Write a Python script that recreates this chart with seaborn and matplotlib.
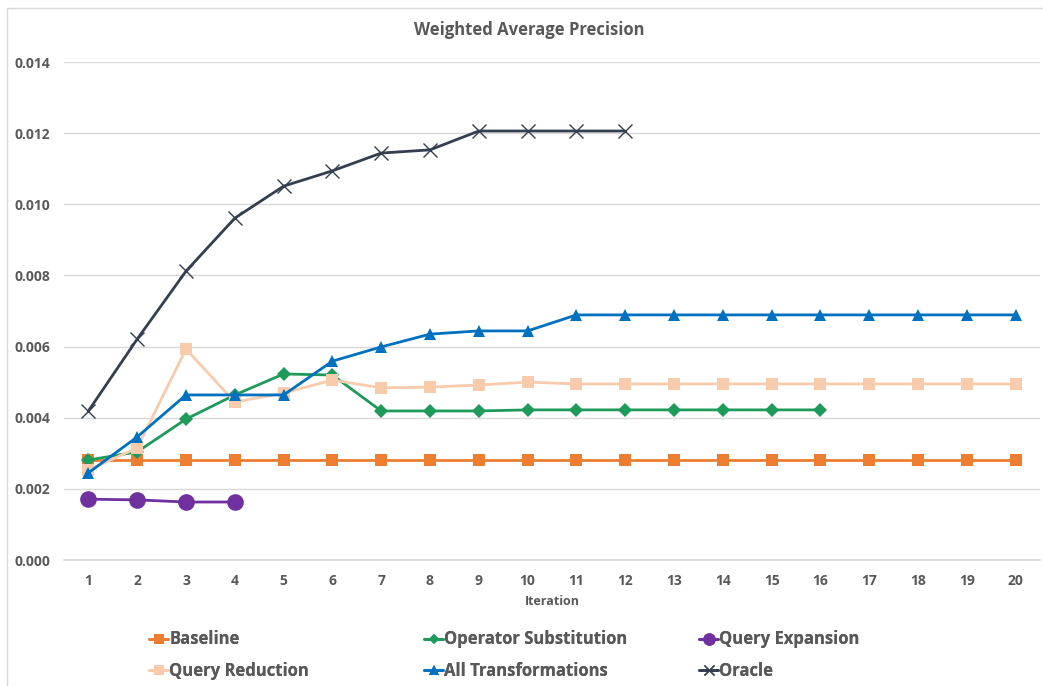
import matplotlib
matplotlib.use("Agg")
import matplotlib.pyplot as plt
import seaborn as sns
import pandas as pd
from matplotlib.patches import Rectangle

# Weighted average precision per iteration for each query strategy
iterations = list(range(1, 21))
baseline = [0.0028] * 20
operator_substitution = [0.00281, 0.00304, 0.00396, 0.00464, 0.00523, 0.00520,
                         0.00419, 0.00419, 0.00419, 0.00422, 0.00422, 0.00422,
                         0.00422, 0.00422, 0.00422, 0.00422]
query_expansion = [0.00171, 0.00169, 0.00163, 0.00163]
query_reduction = [0.00253, 0.00315, 0.00593, 0.00444, 0.00469, 0.00506,
                   0.00484, 0.00486, 0.00492, 0.00500, 0.00495, 0.00495,
                   0.00495, 0.00495, 0.00495, 0.00495, 0.00495, 0.00495,
                   0.00495, 0.00495]
all_transformations = [0.00245, 0.00346, 0.00464, 0.00464, 0.00464, 0.00559,
                       0.00599, 0.00635, 0.00644, 0.00644, 0.00689, 0.00689,
                       0.00689, 0.00689, 0.00689, 0.00689, 0.00689, 0.00689,
                       0.00689, 0.00689]
oracle = [0.00419, 0.00621, 0.00812, 0.00961, 0.01051, 0.01094, 0.01144,
          0.01153, 0.01206, 0.01206, 0.01206, 0.01206]

series_names = ["Baseline", "Operator Substitution", "Query Expansion",
                "Query Reduction", "All Transformations", "Oracle"]
series_values = [baseline, operator_substitution, query_expansion,
                 query_reduction, all_transformations, oracle]
y_ticks = [0.000, 0.002, 0.004, 0.006, 0.008, 0.010, 0.012, 0.014]

rows = []
for name, vals in zip(series_names, series_values):
    for it, v in zip(iterations, vals):
        rows.append({"Iteration": it, "Precision": v, "Series": name})
df = pd.DataFrame(rows)

colors = {"Baseline": "#ED7D31", "Operator Substitution": "#1E9A5A",
          "Query Expansion": "#7030A0", "Query Reduction": "#F8CBAD",
          "All Transformations": "#0070C0", "Oracle": "#333F50"}
markers = {"Baseline": "s", "Operator Substitution": "D",
           "Query Expansion": "o", "Query Reduction": "s",
           "All Transformations": "^", "Oracle": "x"}
msizes = {"Baseline": 9, "Operator Substitution": 7, "Query Expansion": 12,
          "Query Reduction": 9, "All Transformations": 9, "Oracle": 10}

sns.set_theme(style="white")
plt.rcParams["font.family"] = ["Open Sans", "DejaVu Sans"]

fig = plt.figure(figsize=(10.43, 6.86), dpi=100)
ax = fig.add_axes([64 / 1043, 1 - 560 / 686, (1040 - 64) / 1043, (560 - 62) / 686])

# chart frame
fig.patches.append(Rectangle((7 / 1043, -0.1), 1.2, 1 - 8 / 686 + 0.1,
                             transform=fig.transFigure, fill=False,
                             edgecolor="#D9D9D9", linewidth=1.0, zorder=0))

for name in series_names:
    sub = df[df["Series"] == name]
    sns.lineplot(data=sub, x="Iteration", y="Precision", ax=ax,
                 color=colors[name], marker=markers[name],
                 markersize=msizes[name], linewidth=2.0,
                 markeredgewidth=1.0 if markers[name] == "x" else 0,
                 markeredgecolor=colors[name], label=name, zorder=3)

ax.set_xlim(0.5, 20.5)
ax.set_ylim(0, 0.014)
ax.set_xticks(iterations)
ax.set_xticklabels([str(i) for i in iterations])
ax.set_yticks(y_ticks)
ax.set_yticklabels([f"{v:.3f}" for v in y_ticks])
ax.grid(axis="y", color="#D9D9D9", linewidth=1.0)
ax.set_axisbelow(True)
for s in ["left", "right", "top"]:
    ax.spines[s].set_visible(False)
ax.spines["bottom"].set_color("#D9D9D9")
ax.tick_params(axis="both", length=0, colors="#595959", labelsize=10)
ax.tick_params(axis="y", pad=10)
ax.tick_params(axis="x", pad=10)
for lbl in ax.get_xticklabels() + ax.get_yticklabels():
    lbl.set_fontweight("bold")

ax.set_xlabel("Iteration", fontsize=9, fontweight="bold", color="#595959", labelpad=5)
ax.set_ylabel("")
fig.text(529 / 1043, 1 - 30 / 686, "Weighted Average Precision", ha="center",
         va="center", fontsize=12, fontweight="bold", color="#595959")

ax.legend_.remove()
handles, labels = ax.get_legend_handles_labels()
lookup = dict(zip(labels, handles))
# three legend columns, two entries each, filled row by row
columns = [(["Baseline", "Query Reduction"], 146),
           (["Operator Substitution", "All Transformations"], 421),
           (["Query Expansion", "Oracle"], 696)]
for names, xpix in columns:
    leg = fig.legend([lookup[n] for n in names], names, loc="upper left",
                     bbox_to_anchor=(xpix / 1043, 1 - 627 / 686), ncol=1,
                     frameon=False, handlelength=1.1, handletextpad=0.1,
                     labelspacing=0.8, labelcolor="#595959", markerscale=0.75,
                     borderaxespad=0, borderpad=0.2,
                     prop={"weight": "bold", "size": 12})
    fig.add_artist(leg)

fig.savefig("out.png", dpi=100, facecolor="white")
